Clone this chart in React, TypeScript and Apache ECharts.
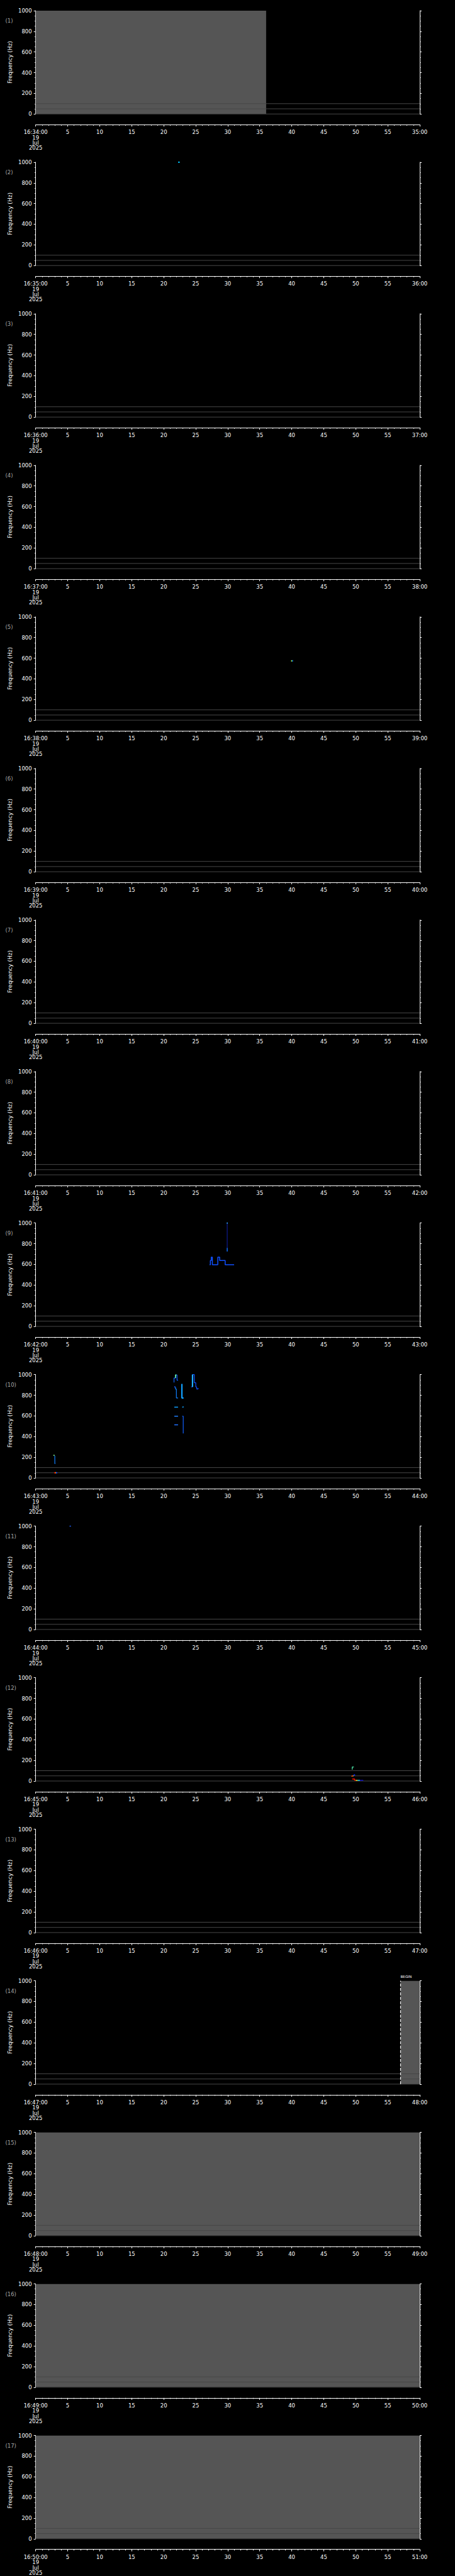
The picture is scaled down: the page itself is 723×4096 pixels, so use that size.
import React, { useEffect, useRef } from "react";
import * as echarts from "echarts";

const S = 723 / 1024;
const PANEL_H = 5802 / 17;
const FONT = "DejaVu Sans";

const panelStartLabels = [
  "16:34:00", "16:35:00", "16:36:00", "16:37:00", "16:38:00", "16:39:00",
  "16:40:00", "16:41:00", "16:42:00", "16:43:00", "16:44:00", "16:45:00",
  "16:46:00", "16:47:00", "16:48:00", "16:49:00", "16:50:00",
];
const panelEndLabels = [
  "35:00", "36:00", "37:00", "38:00", "39:00", "40:00", "41:00", "42:00",
  "43:00", "44:00", "45:00", "46:00", "47:00", "48:00", "49:00", "50:00", "51:00",
];
const dateLines = ["19", "Jul", "2025"];
const refLinesHz = [0, 50, 100];

// [panel number, start second, end second] of grey (data present) coverage
const greyCoverage: [number, number, number][] = [
  [1, 0, 36],
  [14, 57, 60],
  [15, 0, 60],
  [16, 0, 60],
  [17, 0, 60],
];
const dashedEdges: [number, number][] = [[14, 57]];
const panelNotes: [number, number, string][] = [[14, 57, "BEGIN"]];

// detected traces: [panel, color, width, points [sec, Hz]]
const p2Trace = [[22.26, 1000], [22.5, 1000]];
const p5TraceA = [[39.9, 574], [40.05, 574]];
const p5TraceB = [[40.05, 574], [40.2, 574]];
const p9Vert = [[29.92, 1000], [29.92, 760]];
const p9VertLow = [[29.92, 760], [29.92, 725]];
const p9Top = [[29.85, 1000], [30.0, 1000]];
const p9Step = [
  [27.16, 596], [27.29, 596], [27.29, 637], [27.43, 637], [27.43, 670], [27.6, 670],
  [27.6, 596], [28.45, 596], [28.45, 670], [28.74, 670], [28.74, 637], [29.6, 637],
  [29.6, 596], [31.0, 596],
];
const p10LeftTop = [[2.76, 219], [2.96, 219]];
const p10LeftVert = [[2.99, 215], [2.99, 139], [3.08, 139]];
const p10LowRed = [[2.9, 50], [3.08, 50]];
const p10LowYel = [[3.08, 50], [3.17, 50]];
const p10LowBlue = [[3.17, 50], [3.36, 50]];
const p10Upper = [
  [21.61, 924], [21.61, 967], [21.84, 967], [21.84, 996], [22.08, 996], [22.08, 946], [22.24, 946],
];
const p10UpperGreen = [[21.84, 967], [21.84, 996], [21.98, 996]];
const p10Dot = [[21.66, 881], [21.8, 881]];
const p10StepDown = [[21.84, 881], [21.84, 860], [21.98, 860], [21.98, 774], [22.24, 774]];
const p10Thick = [[22.84, 910], [22.84, 774], [23.1, 774]];
const p10Line685a = [[21.66, 685], [22.24, 685]];
const p10Line685b = [[22.9, 685], [23.12, 688]];
const p10Line597a = [[21.66, 597], [22.24, 597]];
const p10Line597b = [[22.9, 597], [23.05, 597], [23.05, 430], [23.1, 430]];
const p10Line514 = [[21.66, 514], [22.24, 514]];
const p10Right = [
  [24.27, 881], [24.5, 881], [24.5, 1000], [24.78, 1000], [24.78, 921], [25.01, 921],
  [25.01, 881], [25.15, 881], [25.15, 860], [25.36, 860], [25.36, 870],
];
const p10RightThick = [[24.5, 881], [24.5, 1000]];
const p11Trace = [[5.3, 1000], [5.5, 1000]];
const p12Hook = [[49.45, 110], [49.45, 136], [49.7, 136]];
const p12Mid1 = [[49.32, 44], [49.5, 50]];
const p12Mid2 = [[49.5, 50], [49.68, 50]];
const p12Mid3 = [[49.68, 50], [49.72, 59], [49.9, 59]];
const p12LowRed = [[49.45, 20], [49.83, 20], [49.83, 7], [49.95, 7]];
const p12Low2 = [[49.95, 7], [50.07, 7]];
const p12Low3 = [[50.07, 7], [50.3, 7]];
const p12Low4 = [[50.3, 7], [50.65, 7]];
const p12Low5 = [[50.65, 7], [51.18, 7]];

const traces: [number, string, number, number[][]][] = [
  [2, "#00c8ff", 2, p2Trace],
  [5, "#a8ff50", 2, p5TraceA],
  [5, "#1090ff", 2, p5TraceB],
  [9, "#1020b0", 1, p9Vert],
  [9, "#1070ff", 1.5, p9VertLow],
  [9, "#30a8ff", 2, p9Top],
  [9, "#1050ff", 1.5, p9Step],
  [10, "#90ff90", 1.5, p10LeftTop],
  [10, "#1080ff", 1.2, p10LeftVert],
  [10, "#ff1000", 2, p10LowRed],
  [10, "#ffe000", 2, p10LowYel],
  [10, "#1040ff", 2, p10LowBlue],
  [10, "#1060ff", 1.2, p10Upper],
  [10, "#70ffa0", 1.5, p10UpperGreen],
  [10, "#2050ff", 2, p10Dot],
  [10, "#1080ff", 1.2, p10StepDown],
  [10, "#10a0ff", 2.2, p10Thick],
  [10, "#10a0ff", 1.5, p10Line685a],
  [10, "#10a0ff", 1.5, p10Line685b],
  [10, "#2080ff", 1.5, p10Line597a],
  [10, "#1060ff", 1.2, p10Line597b],
  [10, "#2070ff", 1.5, p10Line514],
  [10, "#1050ff", 1.2, p10Right],
  [10, "#20b0ff", 2.2, p10RightThick],
  [11, "#2060ff", 1.5, p11Trace],
  [12, "#50f0b0", 1.2, p12Hook],
  [12, "#ff3000", 1.5, p12Mid1],
  [12, "#ffc000", 1.5, p12Mid2],
  [12, "#1030ff", 1.5, p12Mid3],
  [12, "#ff1000", 1.5, p12LowRed],
  [12, "#ff8000", 1.5, p12Low2],
  [12, "#e0ff30", 1.5, p12Low3],
  [12, "#20d0ff", 1.5, p12Low4],
  [12, "#1010c0", 1.5, p12Low5],
];

const PLOT_LEFT = 80.3;
const PLOT_W = 864.4;
const PLOT_TOP = 24;
const PLOT_H = 232.7;

function buildOption() {
  const grid: any[] = [];
  const xAxis: any[] = [];
  const yAxis: any[] = [];
  const series: any[] = [];
  const graphic: any[] = [];
  const n = panelStartLabels.length;
  for (let i = 0; i < n; i++) {
    const off = i * PANEL_H;
    grid.push({
      left: PLOT_LEFT * S,
      top: (off + PLOT_TOP) * S,
      width: PLOT_W * S,
      height: PLOT_H * S,
      containLabel: false,
    });
    const startLabel = panelStartLabels[i];
    const endLabel = panelEndLabels[i];
    xAxis.push({
      gridIndex: i,
      type: "value",
      min: 0,
      max: 60,
      interval: 5,
      position: "bottom",
      offset: 24 * S,
      axisLine: { show: true, onZero: false, lineStyle: { color: "#ffffff", width: 1 } },
      axisTick: { show: true, length: 4.3 * S, lineStyle: { color: "#ffffff", width: 1 } },
      minorTick: { show: true, splitNumber: 5, length: 2.3 * S, lineStyle: { color: "#ffffff", width: 1 } },
      splitLine: { show: false },
      axisLabel: {
        color: "#ffffff",
        fontFamily: FONT,
        fontSize: 12 * S,
        lineHeight: 11.8 * S,
        margin: 11.5 * S,
        formatter: (v: number) => {
          if (v === 0) return [startLabel, ...dateLines].join("\n");
          if (v === 60) return endLabel;
          return String(v);
        },
      },
    });
    const yBase = {
      gridIndex: i,
      type: "value",
      min: 0,
      max: 1000,
      interval: 200,
      axisLine: { show: true, onZero: false, lineStyle: { color: "#ffffff", width: 1 } },
      axisTick: { show: true, length: 4.3 * S, lineStyle: { color: "#ffffff", width: 1 } },
      minorTick: { show: true, splitNumber: 4, length: 2.3 * S, lineStyle: { color: "#ffffff", width: 1 } },
      splitLine: { show: false },
    };
    yAxis.push({
      ...yBase,
      position: "left",
      axisLabel: {
        color: "#ffffff",
        fontFamily: FONT,
        fontSize: 12 * S,
        margin: 8.6 * S,
        formatter: (v: number) => String(v),
      },
    });
    yAxis.push({ ...yBase, position: "right", axisLabel: { show: false } });

    const xi = i;
    const yi = i * 2;
    greyCoverage
      .filter((g) => g[0] === i + 1)
      .forEach((g) => {
        series.push({
          type: "line",
          xAxisIndex: xi,
          yAxisIndex: yi,
          data: [[g[1], 1000], [g[2], 1000]],
          showSymbol: false,
          symbol: "none",
          lineStyle: { width: 0, color: "#555555" },
          areaStyle: { color: "#555555", opacity: 1, origin: "start" },
          z: 1,
          silent: true,
        });
      });
    refLinesHz.forEach((hz) => {
      series.push({
        type: "line",
        xAxisIndex: xi,
        yAxisIndex: yi,
        data: [[0, hz], [60, hz]],
        showSymbol: false,
        symbol: "none",
        lineStyle: { width: 1, color: "#474747" },
        z: 3,
        silent: true,
        clip: false,
      });
    });
    dashedEdges
      .filter((d) => d[0] === i + 1)
      .forEach((d) => {
        series.push({
          type: "line",
          xAxisIndex: xi,
          yAxisIndex: yi,
          data: [[d[1], 0], [d[1], 1000]],
          showSymbol: false,
          symbol: "none",
          lineStyle: { width: 1.2, color: "#ffffff", type: [6.5 * S, 3.5 * S] },
          z: 4,
          silent: true,
        });
      });
    traces
      .filter((t) => t[0] === i + 1)
      .forEach((t) => {
        series.push({
          type: "line",
          xAxisIndex: xi,
          yAxisIndex: yi,
          data: t[3],
          showSymbol: false,
          symbol: "none",
          lineStyle: { width: t[2], color: t[1] },
          z: 5,
          silent: true,
          clip: false,
        });
      });

    graphic.push({
      type: "text",
      x: 12 * S,
      y: (off + 47) * S,
      silent: true,
      style: {
        text: "(" + (i + 1) + ")",
        fill: "#a8a8a8",
        fontFamily: FONT,
        fontSize: 12 * S,
        align: "left",
        verticalAlign: "middle",
        textAlign: "left",
        textVerticalAlign: "middle",
      },
    });
    graphic.push({
      type: "text",
      x: 22.7 * S,
      y: (off + PLOT_TOP + PLOT_H / 2) * S,
      rotation: Math.PI / 2,
      silent: true,
      style: {
        text: "Frequency (Hz)",
        fill: "#ffffff",
        fontFamily: FONT,
        fontSize: 12.8 * S,
        align: "center",
        verticalAlign: "middle",
        textAlign: "center",
        textVerticalAlign: "middle",
      },
    });
    panelNotes
      .filter((p) => p[0] === i + 1)
      .forEach((p) => {
        graphic.push({
          type: "text",
          x: (PLOT_LEFT + (p[1] / 60) * PLOT_W) * S,
          y: (off + PLOT_TOP - 5) * S,
          silent: true,
          style: {
            text: p[2],
            fill: "#ffffff",
            fontFamily: FONT,
            fontSize: 8 * S,
            align: "left",
            verticalAlign: "bottom",
            textAlign: "left",
            textVerticalAlign: "bottom",
          },
        });
      });
  }
  return {
    animation: false,
    backgroundColor: "#000000",
    grid,
    xAxis,
    yAxis,
    series,
    graphic,
  };
}

export default function App() {
  const ref = useRef<HTMLDivElement>(null);
  useEffect(() => {
    document.body.style.margin = "0";
    document.body.style.background = "#000";
    if (!ref.current) return;
    const chart = echarts.init(ref.current, null, { renderer: "svg" });
    chart.setOption(buildOption() as any);
    return () => chart.dispose();
  }, []);
  return <div ref={ref} style={{ width: 723, height: 4096, background: "#000" }} />;
}
